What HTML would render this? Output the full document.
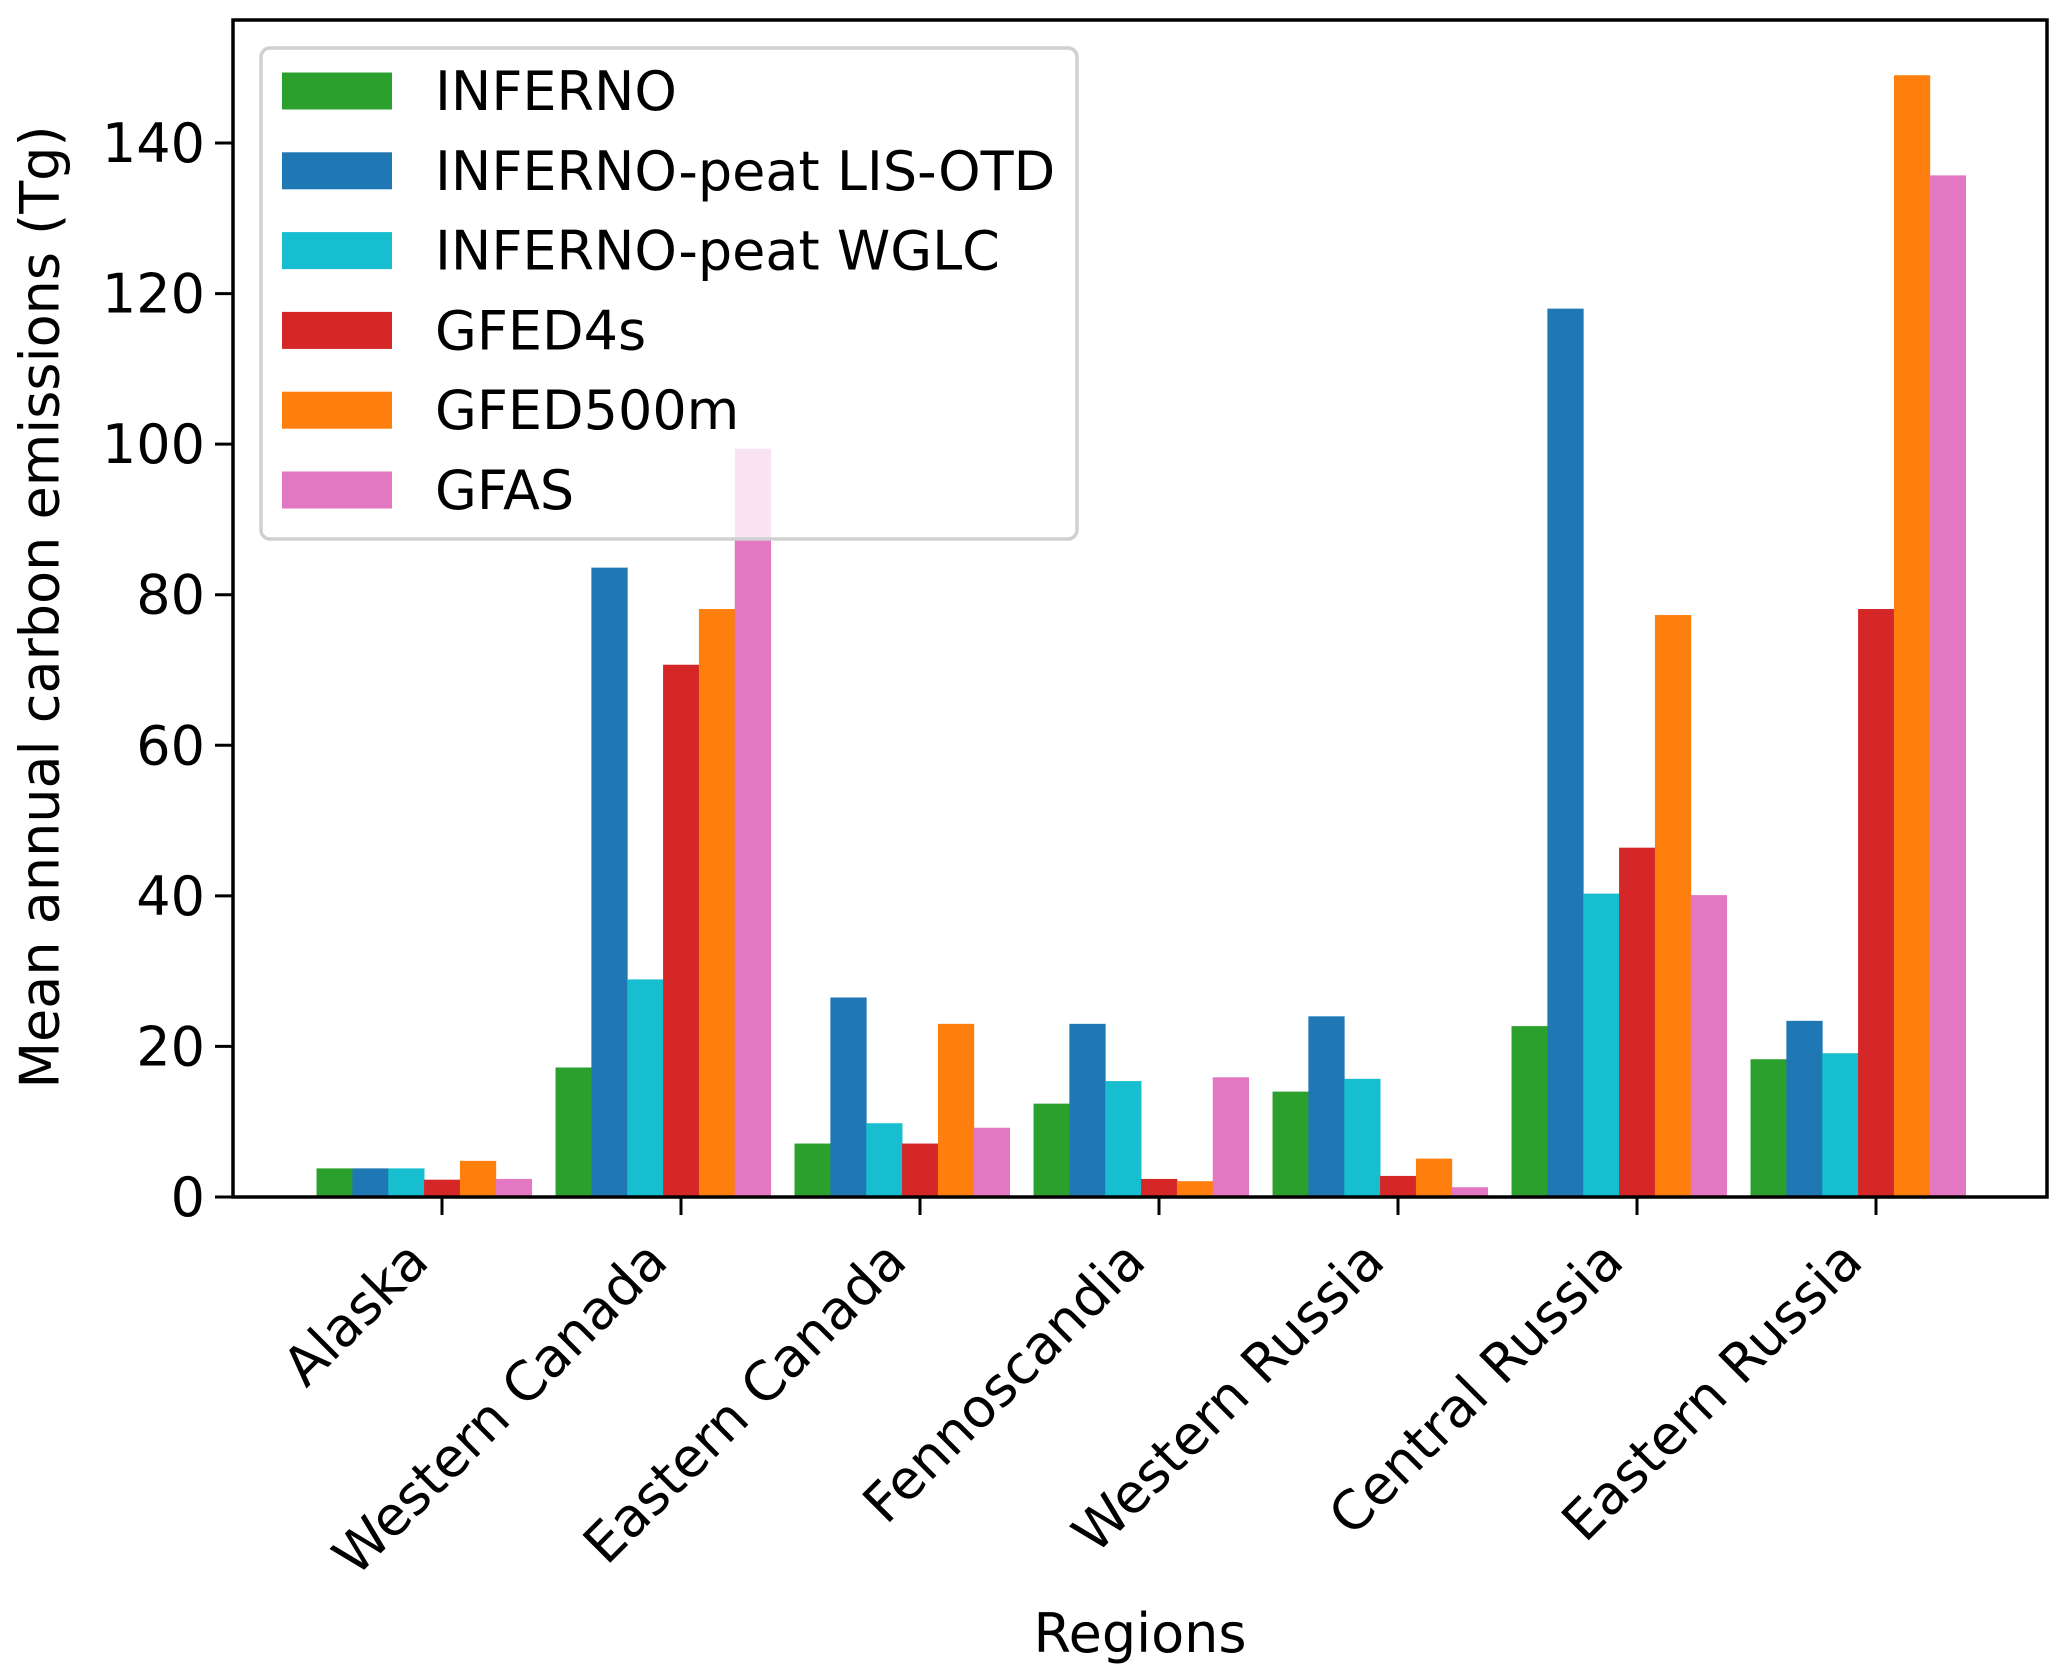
<!DOCTYPE html>
<html><head><meta charset="utf-8"><style>
html,body{margin:0;padding:0;background:#fff;}
svg{display:block;font-family:"DejaVu Sans","Liberation Sans",sans-serif;}
</style></head><body>
<svg id="chart" width="2067" height="1679" viewBox="0 0 2067 1679" xmlns="http://www.w3.org/2000/svg">
<g id="bars"></g>
<g id="axes"></g>
<g id="legend"></g>
<text x="40" y="607" transform="rotate(-90 40 607)" text-anchor="middle" dominant-baseline="central" font-size="54">Mean annual carbon emissions (Tg)</text>
<text x="1140" y="1652" text-anchor="middle" font-size="54">Regions</text>
</svg>
<script>
const categories = ["Alaska","Western Canada","Eastern Canada","Fennoscandia","Western Russia","Central Russia","Eastern Russia"];
const seriesNames = ["INFERNO","INFERNO-peat LIS-OTD","INFERNO-peat WGLC","GFED4s","GFED500m","GFAS"];
const inferno = [3.8,17.2,7.1,12.4,14.0,22.7,18.3];
const infernoLisOtd = [3.8,83.6,26.5,23.0,24.0,118.0,23.4];
const infernoWglc = [3.8,28.9,9.8,15.4,15.7,40.3,19.1];
const gfed4s = [2.3,70.7,7.1,2.4,2.8,46.4,78.1];
const gfed500m = [4.8,78.1,23.0,2.1,5.1,77.3,149.0];
const gfas = [2.4,99.4,9.2,15.9,1.3,40.1,135.7];
const yTicks = [0,20,40,60,80,100,120,140];

const series = [inferno,infernoLisOtd,infernoWglc,gfed4s,gfed500m,gfas];
const colors = ["#2ca02c","#1f77b4","#17becf","#d62728","#ff7f0e","#e377c2"];
const NS = "http://www.w3.org/2000/svg";
const L=233,R=2047,T=20,B=1197;
const y0=1197, pxPerUnit=(1197-143)/140;
const yScale = v => y0 - v*pxPerUnit;
const groupW = 239, firstX = 442;
const xScale = i => firstX + i*groupW;
const barW = groupW*0.9/6;
function mk(tag, attrs, parent){const e=document.createElementNS(NS,tag);for(const k in attrs)e.setAttribute(k,attrs[k]);parent.appendChild(e);return e;}
const gb=document.getElementById('bars');
series.forEach((s,si)=>{
  s.forEach((v,ci)=>{
    const x = xScale(ci) - 3.5*barW + si*barW;
    const r = mk('rect',{x:x,y:yScale(v),width:barW+0.4,height:y0-yScale(v),fill:colors[si]},gb);
    
    
  });
});
const ga=document.getElementById('axes');
const fr=mk('rect',{x:L,y:T,width:R-L,height:B-T,fill:'none',stroke:'#000','stroke-width':3.5},ga);


yTicks.forEach(t=>{
  const y=yScale(t);
  const tk=mk('line',{x1:L-18,x2:L,y1:y,y2:y,stroke:'#000','stroke-width':3},ga);
  
  
  const tx=mk('text',{x:L-28,y:y+19,'text-anchor':'end','font-size':54},ga);
  tx.textContent=t;
  
  
});
categories.forEach((c,i)=>{
  const x=xScale(i);
  const tk=mk('line',{x1:x,x2:x,y1:B,y2:B+18,stroke:'#000','stroke-width':3},ga);
  
  
  const px=x-11, py=1264;
  const tx=mk('text',{x:px,y:py,'text-anchor':'end','font-size':54,transform:`rotate(-45 ${px} ${py})`},ga);
  tx.textContent=c;
  
  
});
const gl=document.getElementById('legend');
const box=mk('rect',{x:261,y:48,width:816,height:491,rx:9,fill:'#fff','fill-opacity':0.8,stroke:'#d0d0d0','stroke-width':3.5},gl);


seriesNames.forEach((n,i)=>{
  const cy=91+i*79.8;
  const g=mk('g',{},gl);
  
  
  mk('rect',{x:282,y:cy-18.5,width:110,height:37,fill:colors[i]},g);
  const t=mk('text',{x:435,y:cy+19,'font-size':54},g);
  t.textContent=n;
});
</script>
</body></html>
